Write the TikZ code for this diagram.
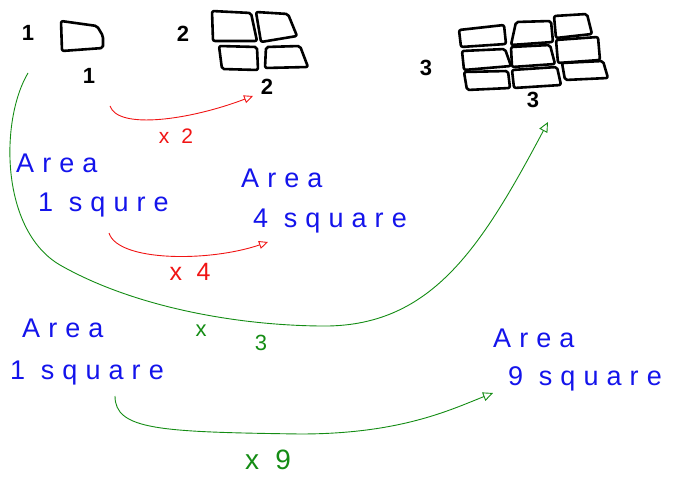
\documentclass[tikz,border=0pt]{standalone}
\usepackage{fontspec}
\setmainfont{Liberation Sans}
\newfontfamily\handfont[LetterSpace=30]{Liberation Sans}
\usetikzlibrary{arrows.meta}
\definecolor{inkblue}{RGB}{20,20,235}
\definecolor{inkred}{RGB}{240,20,20}
\definecolor{inkgreen}{RGB}{20,140,20}
\tikzset{
  num/.style={font=\bfseries\fontsize{22}{22}\selectfont, text=black, inner sep=0pt},
  bluetxt/.style={font=\handfont\fontsize{27}{27}\selectfont, text=inkblue, inner sep=0pt, anchor=west},
  redlbl/.style={font=\handfont\fontsize{21}{21}\selectfont, text=inkred, inner sep=0pt},
  greenlbl/.style={font=\handfont\fontsize{22}{22}\selectfont, text=inkgreen, inner sep=0pt},
  cell/.style={draw=black, line width=2.6pt, rounded corners=2pt, line join=round},
  redarrow/.style={draw=inkred, line width=0.9pt, -{Triangle[open,length=9pt,width=8pt]}},
  greenarrow/.style={draw=inkgreen, line width=0.9pt, -{Triangle[open,length=10pt,width=9pt]}},
}
\begin{document}
\begin{tikzpicture}[x=1pt,y=-1pt]
\useasboundingbox (0,0) rectangle (691,484);

% top row numbers
\node[num] (n1a) at (28,33) {1};
\node[num] (n1b) at (89,76) {1};
\node[num] (n2a) at (183,34) {2};
\node[num] (n2b) at (267,87) {2};
\node[num] (n3a) at (426,68) {3};
\node[num] (n3b) at (533,100) {3};

% 1 square
\draw[cell] (61,21) -- (97,26) -- (103,36) -- (103,48) -- (62,51) -- cycle;

% 2x2 grid
\draw[cell] (212,11) -- (251,13) -- (257,41) -- (213,41) -- cycle;
\draw[cell] (256,12) -- (288,14) -- (297,36) -- (261,42) -- cycle;
\draw[cell] (219,46) -- (257,47) -- (258,70) -- (222,69) -- cycle;
\draw[cell] (266,47) -- (300,46) -- (308,67) -- (265,68) -- cycle;

% 3x3 grid
\draw[cell] (459,30) -- (504,25) -- (506,44) -- (461,47) -- cycle;
\draw[cell] (516,22) -- (551,21) -- (553,42) -- (511,45) -- cycle;
\draw[cell] (554,16) -- (587,14) -- (592,34) -- (556,38) -- cycle;
\draw[cell] (462,51) -- (505,49) -- (511,66) -- (464,70) -- cycle;
\draw[cell] (511,47) -- (550,45) -- (555,64) -- (512,67) -- cycle;
\draw[cell] (556,40) -- (598,37) -- (600,60) -- (558,63) -- cycle;
\draw[cell] (464,72) -- (508,71) -- (510,88) -- (467,90) -- cycle;
\draw[cell] (512,70) -- (557,67) -- (561,85) -- (514,88) -- cycle;
\draw[cell] (562,63) -- (603,61) -- (608,78) -- (565,80) -- cycle;

% text blocks
\node[bluetxt] (ar1) at (16,163) {Area};
\node[bluetxt] (sq1) at (38,205) {1 squre};
\node[bluetxt] (ar4) at (241,178) {Area};
\node[bluetxt] (sq4) at (253,221) {4 square};
\node[bluetxt] (ar1b) at (22,328) {Area};
\node[bluetxt] (sq1b) at (10,373) {1 square};
\node[bluetxt] (ar9) at (493,338) {Area};
\node[bluetxt] (sq9) at (508,379) {9 square};

% connector anchor points
\coordinate (r1s) at (110,106);
\coordinate (r1e) at (253,96);
\coordinate (r2s) at (109,233);
\coordinate (r2e) at (268,242);
\coordinate (gs) at (28,73);
\coordinate (ge) at (548,122);
\coordinate (g2s) at (115,396);
\coordinate (g2e) at (493,393);

% red arrows
\draw[redarrow] (r1s) .. controls (118,130) and (190,120) .. (r1e);
\node[redlbl] (x2) at (176,136) {x 2};
\draw[redarrow] (r2s) .. controls (118,262) and (210,262) .. (r2e);
\node[redlbl, font=\handfont\fontsize{25}{25}\selectfont] (x4) at (190,272) {x 4};

% big green arrow
\draw[greenarrow] (gs) .. controls (0,120) and (0,230) .. (60,265)
  .. controls (130,305) and (230,325) .. (320,326)
  .. controls (430,328) and (480,250) .. (ge);
\node[greenlbl] (x3a) at (201,331) {x};
\node[greenlbl] (x3b) at (261,343) {3};

% lower green arrow
\draw[greenarrow] (g2s) .. controls (115,430) and (160,432) .. (300,434)
  .. controls (400,434) and (450,410) .. (g2e);
\node[greenlbl, font=\handfont\fontsize{28}{28}\selectfont] (x9) at (268,460) {x 9};
\end{tikzpicture}
\end{document}
